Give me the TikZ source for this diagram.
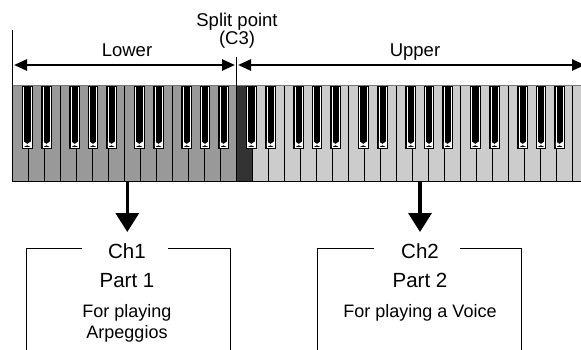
\documentclass[tikz,border=0pt]{standalone}
\usepackage{fontspec}
\setmainfont{Liberation Sans}
\usetikzlibrary{arrows.meta}
\definecolor{lowgray}{HTML}{999999}
\definecolor{upgray}{HTML}{CCCCCC}
\definecolor{splitgray}{HTML}{333333}
\definecolor{edgegray}{HTML}{777777}
\newcommand\mybkey[1]{%
  \fill[black] ({#1-5.3},86) rectangle ({#1+5.3},149.5);
  \draw[white, line width=0.55] ({#1-3.6},86.6) -- ({#1-3.6},146.8) -- ({#1+3.6},146.8) -- ({#1+3.6},86.6);
  \fill[white] ({#1-3.6},141.5) -- (#1,144) -- ({#1+3.6},141.5) -- ({#1+3.6},147) -- (#1,145.2) -- ({#1-3.6},147) -- cycle;
}
\tikzset{
  keyline/.style={black, line width=1.3},
  hharrow/.style={line width=2.6, {Triangle[length=13pt,width=11pt]}-{Triangle[length=13pt,width=11pt]}},
  darrow/.style={line width=3.5, -{Triangle[length=19pt,width=23pt]}},
  tick/.style={black, line width=1},
  boxline/.style={black, line width=1},
  toptext/.style={font=\fontsize{18.5}{22}\selectfont, inner sep=0, anchor=base},
  chtext/.style={font=\fontsize{20.5}{24}\selectfont, inner sep=0, anchor=base},
  smalltext/.style={font=\fontsize{18}{21}\selectfont, inner sep=0, anchor=base}
}
\begin{document}
\begin{tikzpicture}[x=1pt,y=-1pt]
\useasboundingbox (0,0) rectangle (581,350);
\begin{scope}
\clip (0,0) rectangle (581,350);
% keyboard body
\fill[lowgray] (12.3,86) rectangle (236.3,181.5);
\fill[splitgray] (236.3,86) rectangle (252.3,181.5);
\fill[upgray] (252.3,86) rectangle (600,181.5);
\foreach \i in {1,...,36} \draw[keyline] ({12.3+16*\i},86) -- ({12.3+16*\i},181.5);
\draw[edgegray, line width=1] (12.3,86) -- (600,86);
\draw[black, line width=1.2] (12.3,86) -- (12.3,181.5) -- (600,181.5);
% black keys
\foreach \o in {0,...,4}
  \foreach \d in {15,34.2,62.4,80.7,99.2}
  {\pgfmathsetmacro\c{12.3+112*\o+\d}\mybkey{\c}}
% range markers
\coordinate (lefttop) at (12.3,30);
\coordinate (leftbot) at (12.3,86);
\coordinate (splittop) at (236.3,57);
\coordinate (splitbot) at (236.3,86);
\draw[tick] (lefttop) -- (leftbot);
\draw[tick] (splittop) -- (splitbot);
\coordinate (lowA) at (14,65);
\coordinate (lowB) at (235,65);
\coordinate (upA) at (238,65);
\coordinate (upB) at (585,65);
\draw[hharrow] (lowA) -- (lowB);
\draw[hharrow] (upA) -- (upB);
\node[toptext] (lower) at (127,57) {Lower};
\node[toptext] (upper) at (415,57) {Upper};
\node[toptext] (split) at (237,27) {Split point};
\node[toptext] (splitc) at (237,45) {(C3)};
% down arrows
\coordinate (d1a) at (127.3,182);
\coordinate (d1b) at (127.3,232);
\coordinate (d2a) at (420,182);
\coordinate (d2b) at (420,232);
\draw[darrow] (d1a) -- (d1b);
\draw[darrow] (d2a) -- (d2b);
% box 1
\coordinate (b1gl) at (82,248);
\coordinate (b1tl) at (26,248);
\coordinate (b1bl) at (26,360);
\coordinate (b1gr) at (168,248);
\coordinate (b1tr) at (230,248);
\coordinate (b1br) at (230,360);
\draw[boxline] (b1gl) -- (b1tl) -- (b1bl);
\draw[boxline] (b1gr) -- (b1tr) -- (b1br);
\node[chtext] (ch1) at (127,258) {Ch1};
\node[chtext] (part1) at (127,287) {Part 1};
\node[smalltext] (play1) at (127,317) {For playing};
\node[smalltext] (arp) at (127,338) {Arpeggios};
% box 2
\coordinate (b2gl) at (374.3,248);
\coordinate (b2tl) at (317.7,248);
\coordinate (b2bl) at (317.7,360);
\coordinate (b2gr) at (460,248);
\coordinate (b2tr) at (521.7,248);
\coordinate (b2br) at (521.7,360);
\draw[boxline] (b2gl) -- (b2tl) -- (b2bl);
\draw[boxline] (b2gr) -- (b2tr) -- (b2br);
\node[chtext] (ch2) at (420,258) {Ch2};
\node[chtext] (part2) at (420,287) {Part 2};
\node[smalltext] (play2) at (420,317) {For playing a Voice};
\end{scope}
\end{tikzpicture}
\end{document}
